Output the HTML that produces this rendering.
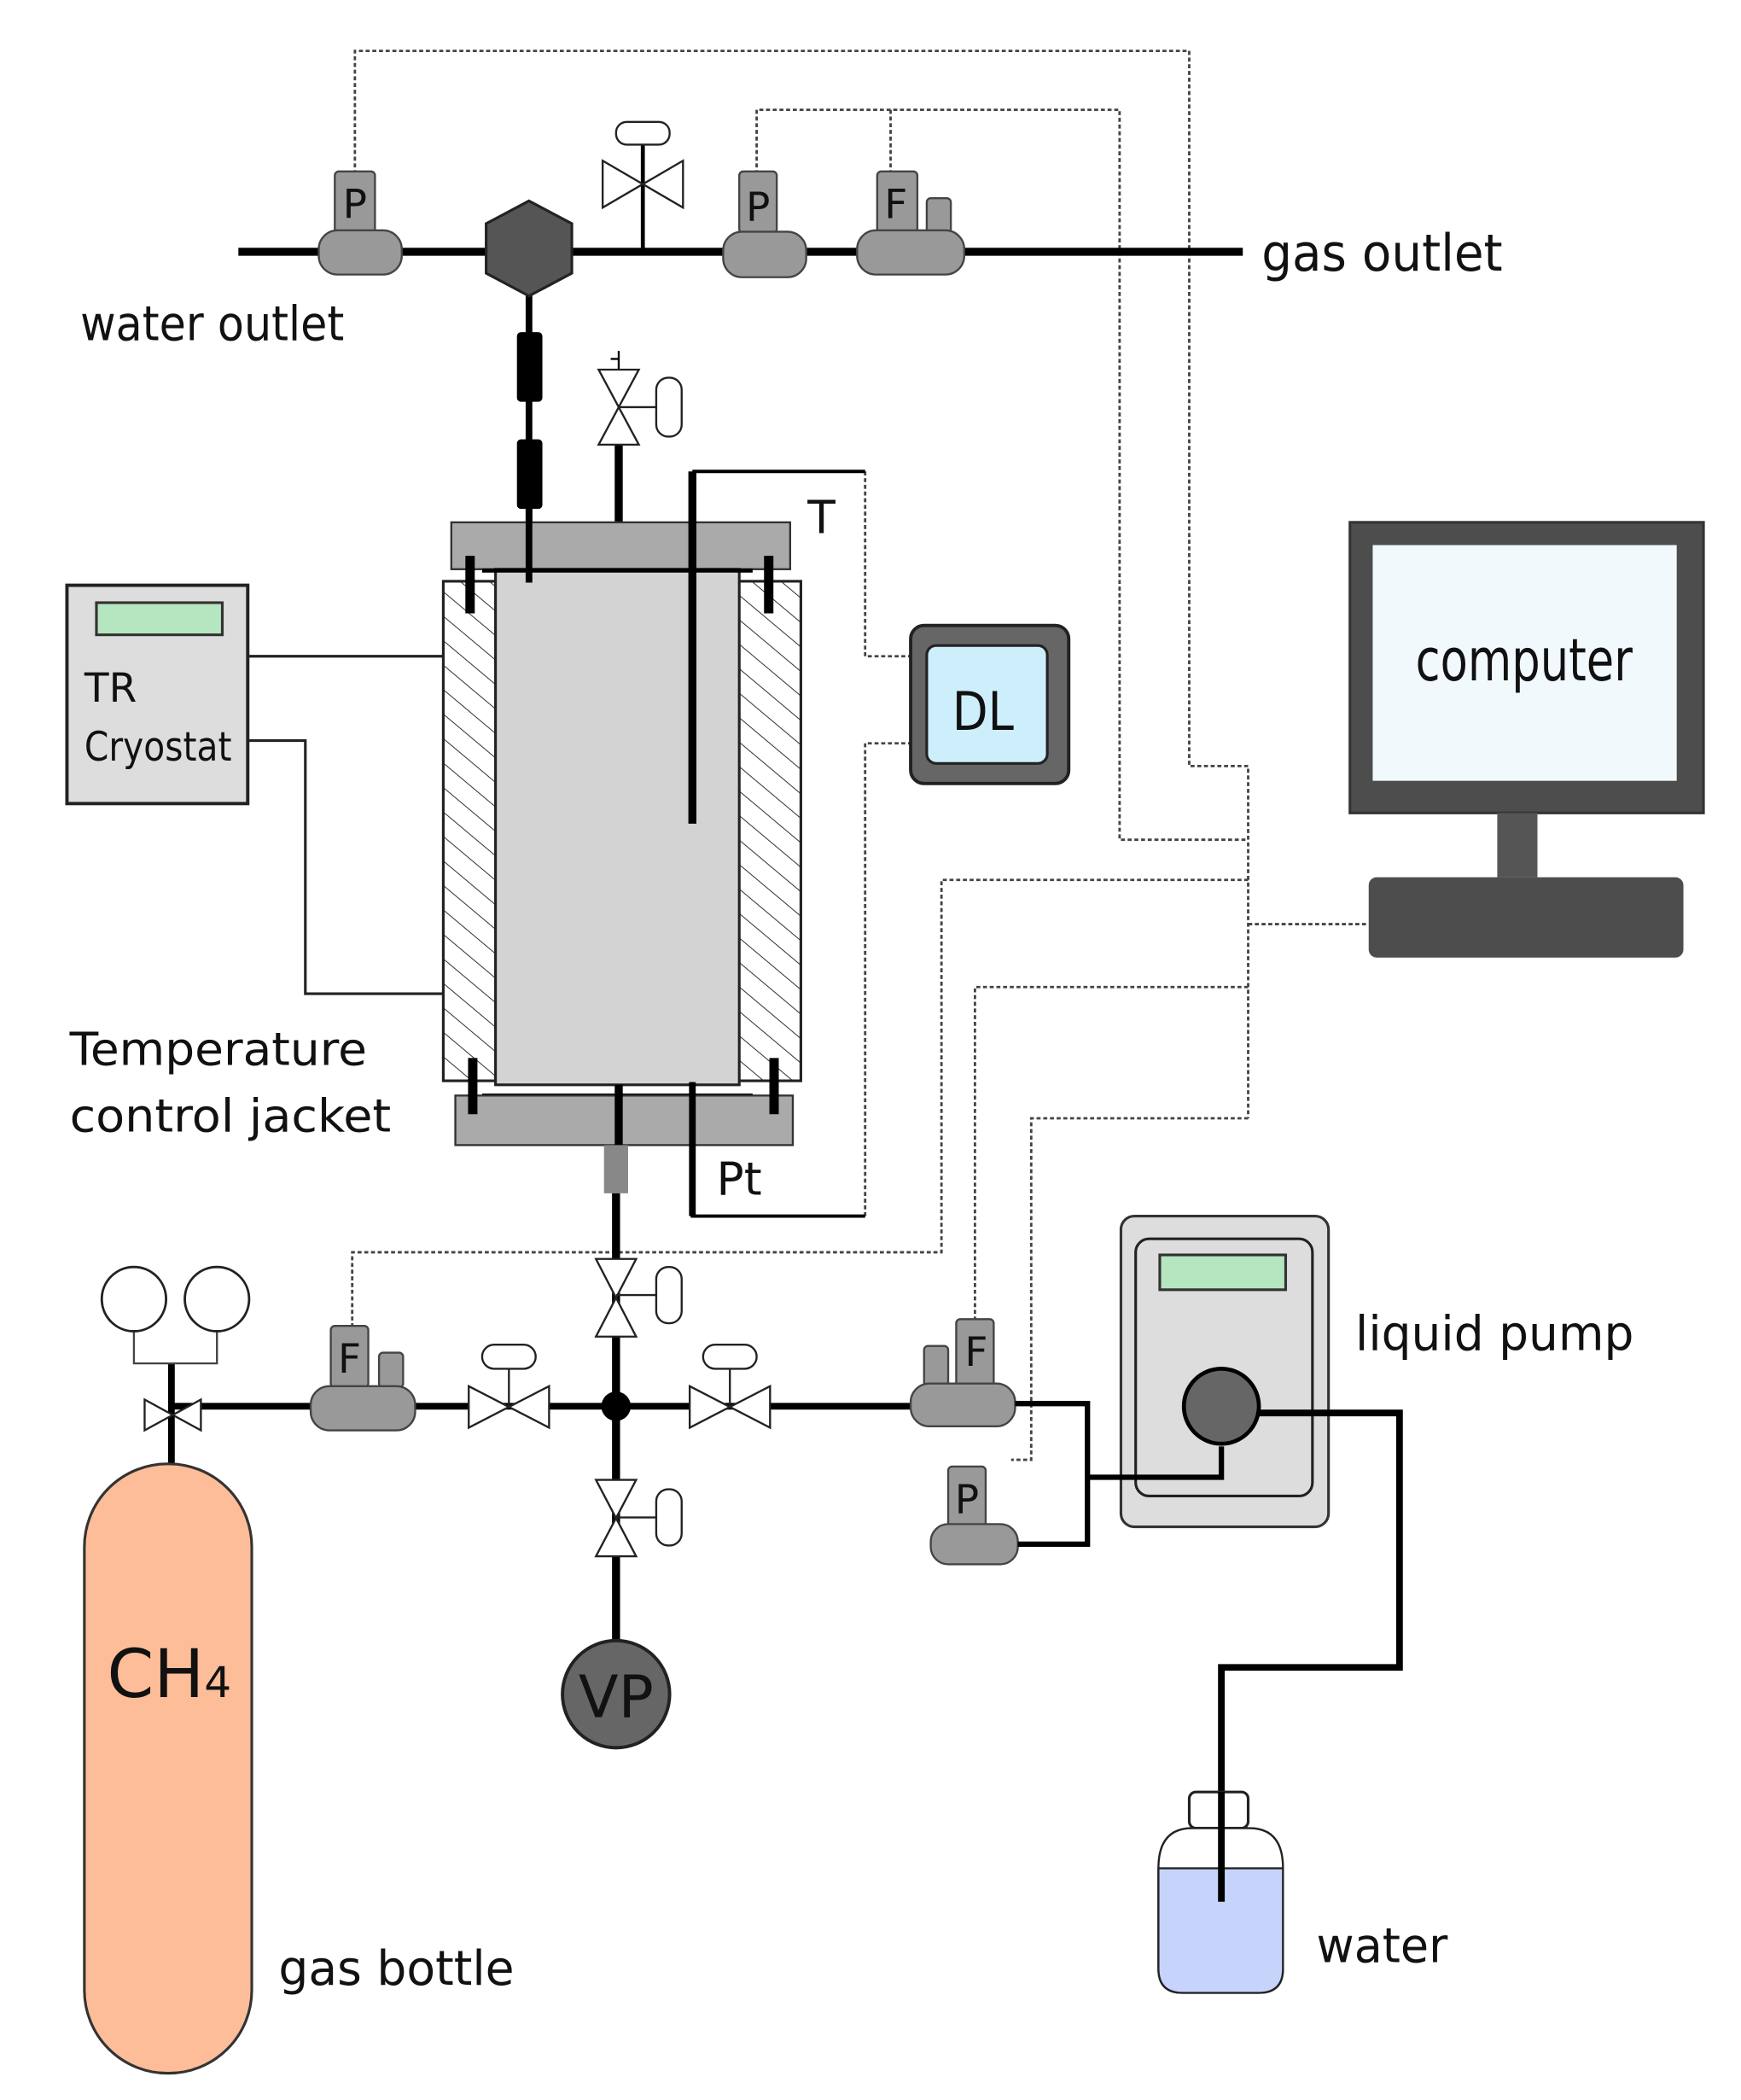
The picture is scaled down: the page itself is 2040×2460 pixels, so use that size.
<!DOCTYPE html>
<html><head><meta charset="utf-8"><style>html,body{margin:0;padding:0;background:#fff}svg{display:block}</style></head>
<body>
<svg width="2040" height="2460" viewBox="0 0 1300 1568" preserveAspectRatio="none" xmlns="http://www.w3.org/2000/svg" font-family="'DejaVu Sans','Liberation Sans',sans-serif">
<defs>
<pattern id="h" width="14" height="14" patternUnits="userSpaceOnUse" patternTransform="rotate(-50)">
<rect width="14" height="14" fill="#fff"/><line x1="0" y1="0" x2="0" y2="14" stroke="#333" stroke-width="1.3"/></pattern>
</defs>
<g fill="none" stroke="#444" stroke-width="1.8" stroke-dasharray="3,2">
<path d="M265 130V38H888V572H932V835"/>
<path d="M565 130V82H836V627H932"/>
<path d="M665 130V82"/>
<path d="M932 690H1022"/>
<path d="M932 657H703V935H263V990"/>
<path d="M932 737H728V985"/>
<path d="M932 835H770V1090H755"/>
<path d="M646 352V490H680"/>
<path d="M646 908V555H680"/>
</g>
<line x1="178" y1="188" x2="928" y2="188" stroke="#000" stroke-width="6"/>
<line x1="395" y1="188" x2="395" y2="435" stroke="#000" stroke-width="5"/>
<rect x="386" y="248" width="19" height="52" rx="3" fill="#000"/>
<rect x="386" y="328" width="19" height="52" rx="3" fill="#000"/>
<polygon points="395,150 427,167 427,204 395,221 363,204 363,167" fill="#555" stroke="#222" stroke-width="2"/>
<line x1="480" y1="107" x2="480" y2="188" stroke="#000" stroke-width="3"/>
<polygon points="450,120 510,155 510,120 450,155" fill="#fff" stroke="#222" stroke-width="1.5"/>
<rect x="460" y="91" width="40" height="17" rx="8" fill="#fff" stroke="#222" stroke-width="1.5"/>
<g stroke="#444" stroke-width="1.5" fill="#999">
<rect x="250" y="128" width="30" height="46" rx="3"/>
<rect x="238" y="172" width="62" height="33" rx="14"/>
<rect x="552" y="128" width="28" height="46" rx="3"/>
<rect x="540" y="173" width="62" height="34" rx="14"/>
<rect x="655" y="128" width="30" height="46" rx="3"/>
<rect x="692" y="148" width="18" height="26" rx="3"/>
<rect x="640" y="172" width="80" height="33" rx="14"/>
</g>
<g font-size="30" fill="#111" text-anchor="middle">
<text x="265" y="163">P</text><text x="566" y="165">P</text><text x="669" y="163">F</text>
</g>
<text x="942" y="202" font-size="38" fill="#111" textLength="180" lengthAdjust="spacingAndGlyphs">gas outlet</text>
<text x="60" y="254" font-size="36" fill="#111" textLength="197" lengthAdjust="spacingAndGlyphs">water outlet</text>
<line x1="462" y1="262" x2="462" y2="276" stroke="#000" stroke-width="1.5"/>
<line x1="456" y1="268" x2="462" y2="268" stroke="#000" stroke-width="1.5"/>
<line x1="462" y1="332" x2="462" y2="435" stroke="#000" stroke-width="6"/>
<polygon points="447,276 477,276 447,332 477,332" fill="#fff" stroke="#222" stroke-width="1.5"/>
<line x1="462" y1="304" x2="490" y2="304" stroke="#222" stroke-width="1.5"/>
<rect x="490" y="282" width="19" height="44" rx="9" fill="#fff" stroke="#222" stroke-width="1.5"/>
<rect x="337" y="390" width="253" height="35" fill="#aaa" stroke="#333" stroke-width="1.5"/>
<rect x="331" y="434" width="267" height="373" fill="url(#h)" stroke="#222" stroke-width="2"/>
<rect x="370" y="425" width="182" height="385" fill="#d3d3d3" stroke="#222" stroke-width="2"/>
<line x1="360" y1="426" x2="562" y2="426" stroke="#000" stroke-width="3"/>
<line x1="360" y1="818" x2="562" y2="818" stroke="#000" stroke-width="3"/>
<rect x="340" y="818" width="252" height="37" fill="#aaa" stroke="#333" stroke-width="1.5"/>
<g stroke="#000" stroke-width="7">
<line x1="351" y1="415" x2="351" y2="458"/><line x1="574" y1="415" x2="574" y2="458"/>
<line x1="353" y1="790" x2="353" y2="832"/><line x1="578" y1="790" x2="578" y2="832"/>
<line x1="395" y1="380" x2="395" y2="435" stroke-width="5"/>
<line x1="462" y1="810" x2="462" y2="855" stroke-width="6"/>
</g>
<line x1="517" y1="352" x2="517" y2="615" stroke="#000" stroke-width="6"/>
<line x1="517" y1="352" x2="646" y2="352" stroke="#000" stroke-width="2.5"/>
<path d="M517 808V908H646" fill="none" stroke="#000" stroke-width="2.5"/>
<line x1="517" y1="808" x2="517" y2="908" stroke="#000" stroke-width="5"/>
<text x="603" y="398" font-size="34" fill="#111">T</text>
<text x="535" y="892" font-size="34" fill="#111">Pt</text>
<text x="52" y="795" font-size="34" fill="#111" textLength="222" lengthAdjust="spacingAndGlyphs">Temperature</text>
<text x="52" y="845" font-size="34" fill="#111" textLength="240" lengthAdjust="spacingAndGlyphs">control jacket</text>
<rect x="680" y="467" width="118" height="118" rx="10" fill="#666" stroke="#222" stroke-width="2.5"/>
<rect x="692" y="482" width="90" height="88" rx="7" fill="#cdeffc" stroke="#222" stroke-width="2"/>
<text x="734" y="545" font-size="40" text-anchor="middle" fill="#111" textLength="46" lengthAdjust="spacingAndGlyphs">DL</text>
<rect x="50" y="437" width="135" height="163" fill="#ddd" stroke="#222" stroke-width="2.5"/>
<rect x="72" y="450" width="94" height="24" fill="#b6e6c0" stroke="#333" stroke-width="2"/>
<text x="63" y="524" font-size="30" fill="#111">TR</text>
<text x="63" y="568" font-size="30" fill="#111" textLength="110" lengthAdjust="spacingAndGlyphs">Cryostat</text>
<path d="M185 490H331M185 553H228V742H331" fill="none" stroke="#222" stroke-width="2"/>
<rect x="1008" y="390" width="264" height="217" fill="#4d4d4d" stroke="#333" stroke-width="2"/>
<rect x="1025" y="407" width="227" height="176" fill="#f1f9fd"/>
<text x="1138" y="508" font-size="44" text-anchor="middle" fill="#111" textLength="162" lengthAdjust="spacingAndGlyphs">computer</text>
<rect x="1118" y="607" width="30" height="48" fill="#555"/>
<rect x="1022" y="655" width="235" height="60" rx="6" fill="#4d4d4d"/>
<rect x="451" y="855" width="18" height="36" fill="#888"/>
<line x1="460" y1="891" x2="460" y2="1228" stroke="#000" stroke-width="6"/>
<g fill="#fff" stroke="#222" stroke-width="1.5">
<polygon points="445,940 475,940 445,998 475,998"/>
<rect x="490" y="946" width="19" height="42" rx="9"/>
<polygon points="445,1105 475,1105 445,1162 475,1162"/>
<rect x="490" y="1112" width="19" height="42" rx="9"/>
</g>
<line x1="460" y1="967" x2="490" y2="967" stroke="#222" stroke-width="1.5"/>
<line x1="460" y1="1133" x2="490" y2="1133" stroke="#222" stroke-width="1.5"/>
<circle cx="460" cy="1265" r="40" fill="#666" stroke="#222" stroke-width="2.5"/>
<text x="460" y="1282" font-size="44" text-anchor="middle" fill="#111" textLength="56" lengthAdjust="spacingAndGlyphs">VP</text>
<line x1="128" y1="1050" x2="682" y2="1050" stroke="#000" stroke-width="5"/>
<circle cx="460" cy="1050" r="11" fill="#000"/>
<line x1="128" y1="1018" x2="128" y2="1095" stroke="#000" stroke-width="5"/>
<polygon points="108,1045 150,1068 150,1045 108,1068" fill="#fff" stroke="#222" stroke-width="1.5"/>
<path d="M100 994V1018H162V994" fill="none" stroke="#444" stroke-width="1.5"/>
<circle cx="100" cy="970" r="24" fill="#fff" stroke="#222" stroke-width="1.8"/>
<circle cx="162" cy="970" r="24" fill="#fff" stroke="#222" stroke-width="1.8"/>
<g fill="#fff" stroke="#222" stroke-width="1.5">
<line x1="380" y1="1020" x2="380" y2="1050"/>
<polygon points="350,1035 410,1066 410,1035 350,1066"/>
<rect x="360" y="1004" width="40" height="18" rx="9"/>
<line x1="545" y1="1020" x2="545" y2="1050"/>
<polygon points="515,1035 575,1066 575,1035 515,1066"/>
<rect x="525" y="1004" width="40" height="18" rx="9"/>
</g>
<g stroke="#444" stroke-width="1.5" fill="#999">
<rect x="247" y="990" width="28" height="46" rx="3"/>
<rect x="283" y="1010" width="18" height="26" rx="3"/>
<rect x="232" y="1035" width="78" height="33" rx="14"/>
<rect x="714" y="985" width="28" height="50" rx="3"/>
<rect x="690" y="1005" width="18" height="30" rx="3"/>
<rect x="680" y="1033" width="78" height="32" rx="14"/>
<rect x="708" y="1095" width="28" height="45" rx="3"/>
<rect x="695" y="1138" width="65" height="30" rx="13"/>
</g>
<g font-size="30" fill="#111" text-anchor="middle">
<text x="261" y="1025">F</text><text x="729" y="1020">F</text><text x="722" y="1130">P</text>
</g>
<rect x="837" y="908" width="155" height="232" rx="10" fill="#ddd" stroke="#333" stroke-width="2"/>
<rect x="848" y="925" width="132" height="192" rx="10" fill="#ddd" stroke="#222" stroke-width="2"/>
<rect x="866" y="937" width="94" height="26" fill="#b6e6c0" stroke="#333" stroke-width="2"/>
<path d="M758 1048H812V1153H760M812 1103H912V1080" fill="none" stroke="#000" stroke-width="4"/>
<circle cx="912" cy="1050" r="28" fill="#666" stroke="#000" stroke-width="3"/>
<path d="M940 1055H1045V1245H912V1420" fill="none" stroke="#000" stroke-width="5"/>
<text x="1012" y="1008" font-size="36" fill="#111" textLength="208" lengthAdjust="spacingAndGlyphs">liquid pump</text>
<rect x="888" y="1338" width="44" height="27" rx="5" fill="#fff" stroke="#222" stroke-width="2"/>
<path d="M865 1395Q865 1365 890 1365H933Q958 1365 958 1395V1470Q958 1488 940 1488H883Q865 1488 865 1470Z" fill="#fff" stroke="#222" stroke-width="1.5"/>
<path d="M865 1395H958V1470Q958 1488 940 1488H883Q865 1488 865 1470Z" fill="#c6d4fb" stroke="#222" stroke-width="1.5"/>
<line x1="912" y1="1338" x2="912" y2="1420" stroke="#000" stroke-width="5"/>
<text x="983" y="1465" font-size="36" fill="#111" textLength="98" lengthAdjust="spacingAndGlyphs">water</text>
<rect x="63" y="1093" width="125" height="455" rx="62" fill="#fdbd98" stroke="#333" stroke-width="2"/>
<text x="80" y="1267" font-size="50" fill="#111">CH<tspan font-size="32">4</tspan></text>
<text x="208" y="1482" font-size="36" fill="#111" textLength="176" lengthAdjust="spacingAndGlyphs">gas bottle</text>
</svg>
</body></html>
